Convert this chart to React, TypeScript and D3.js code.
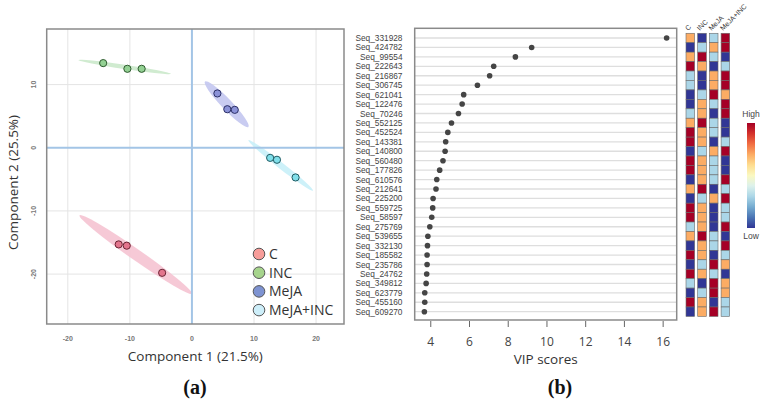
import * as React from 'react';
import * as d3 from 'd3';

// ---- panel (a): PCA scores ----
const groups = ['C', 'INC', 'MeJA', 'MeJA+INC'];
const pcaGroup = [0, 0, 0, 1, 1, 1, 2, 2, 2, 3, 3, 3];
const pcaX = [-11.8, -10.5, -4.8, -14.3, -10.4, -8.1, 4.1, 5.7, 6.9, 12.6, 13.7, 16.7];
const pcaY = [-15.3, -15.5, -19.8, 13.4, 12.5, 12.5, 8.6, 6.1, 6.0, -1.6, -1.9, -4.7];

// confidence ellipses: ends of the long axis + full short-axis width (data units)
const ellX1 = [-18.1, -18.3, 2.1, 9.1];
const ellY1 = [-10.7, 13.9, 10.5, 1.2];
const ellX2 = [0.0, -3.4, 9.1, 19.5];
const ellY2 = [-23.1, 11.7, 3.3, -6.8];
const ellW = [1.8, 0.7, 1.7, 1.0];

const pcaTicks = [-20, -10, 0, 10, 20];

// ---- panel (b): VIP scores ----
const seqNames = [
  'Seq_331928', 'Seq_424782', 'Seq_99554', 'Seq_222643', 'Seq_216867', 'Seq_306745',
  'Seq_621041', 'Seq_122476', 'Seq_70246', 'Seq_552125', 'Seq_452524', 'Seq_143381',
  'Seq_140800', 'Seq_560480', 'Seq_177826', 'Seq_610576', 'Seq_212641', 'Seq_225200',
  'Seq_559725', 'Seq_58597', 'Seq_275769', 'Seq_539655', 'Seq_332130', 'Seq_185582',
  'Seq_235786', 'Seq_24762', 'Seq_349812', 'Seq_623779', 'Seq_455160', 'Seq_609270'
];
const vipScores = [
  16.18, 9.21, 8.37, 7.25, 7.04, 6.41, 5.70, 5.62, 5.43, 5.07, 4.88, 4.77, 4.74, 4.63, 4.46,
  4.31, 4.27, 4.12, 4.10, 4.05, 3.95, 3.85, 3.83, 3.81, 3.81, 3.79, 3.76, 3.69, 3.69, 3.67
];
const vipTicks = [4, 6, 8, 10, 12, 14, 16];

// relative level per group (1 = low ... 4 = high)
const heatC = [3, 1, 3, 4, 2, 2, 1, 1, 2, 3, 4, 4, 1, 4, 4, 1, 3, 1, 4, 4, 2, 3, 1, 4, 1, 4, 2, 1, 4, 1];
const heatINC = [1, 2, 4, 3, 1, 1, 2, 3, 3, 4, 3, 3, 2, 3, 3, 3, 4, 2, 3, 3, 3, 4, 3, 3, 2, 3, 1, 2, 3, 3];
const heatMeJA = [2, 3, 2, 1, 3, 3, 4, 2, 1, 2, 2, 1, 3, 2, 2, 2, 1, 3, 1, 1, 1, 2, 2, 1, 4, 2, 4, 4, 1, 4];
const heatMeJAINC = [4, 4, 1, 2, 4, 4, 3, 4, 4, 1, 1, 2, 4, 1, 1, 4, 2, 4, 2, 2, 4, 1, 4, 2, 3, 1, 3, 3, 2, 2];
const heatCols = [heatC, heatINC, heatMeJA, heatMeJAINC];

const pointFill = ['#e3758d', '#93d193', '#8b92d8', '#80dfea'];
const pointStroke = ['#6b2434', '#2f5a2f', '#2b2f66', '#1f5a62'];
const ellFill = ['#f5c3d2', '#cbe9cb', '#c3c6f0', '#c8f0f8'];
const legendFill = ['#f79d9a', '#a6d48c', '#7e93d1', '#cdeef9'];

const sans = '"Open Sans", "Noto Sans", sans-serif';
const arial = '"Liberation Sans", Arial, sans-serif';

function PcaPanel() {
  const x = d3.scaleLinear().domain([-23.4, 24.5]).range([46.7, 344]);
  const y = d3.scaleLinear().domain([18.8, -27.9]).range([29, 324]);
  const [x0, x1] = x.range();
  const [y0, y1] = y.range();

  const ellipses = ellX1.map((_, i) => {
    const ax = x(ellX1[i]), ay = y(ellY1[i]);
    const bx = x(ellX2[i]), by = y(ellY2[i]);
    const cx = (ax + bx) / 2, cy = (ay + by) / 2;
    const rx = Math.hypot(bx - ax, by - ay) / 2;
    const ry = (x(ellW[i]) - x(0)) / 2;
    const ang = (Math.atan2(by - ay, bx - ax) * 180) / Math.PI;
    return { cx, cy, rx, ry, ang, i };
  });

  return (
    <g>
      <clipPath id="pcaClip">
        <rect x={x0} y={y0} width={x1 - x0} height={y1 - y0} />
      </clipPath>
      {pcaTicks.filter(t => t !== 0).map(t => (
        <line key={'gx' + t} x1={x(t)} x2={x(t)} y1={y0} y2={y1} stroke="#e4e4e4" strokeWidth={1} />
      ))}
      {pcaTicks.filter(t => t !== 0 && y(t) > y0 && y(t) < y1).map(t => (
        <line key={'gy' + t} x1={x0} x2={x1} y1={y(t)} y2={y(t)} stroke="#e4e4e4" strokeWidth={1} />
      ))}
      <g clipPath="url(#pcaClip)">
        {ellipses.map(e => (
          <ellipse key={'e' + e.i} cx={e.cx} cy={e.cy} rx={e.rx} ry={e.ry}
            transform={`rotate(${e.ang} ${e.cx} ${e.cy})`} fill={ellFill[e.i]} opacity={0.9} />
        ))}
      </g>
      <line x1={x(0)} x2={x(0)} y1={y0} y2={y1} stroke="#a3c5e6" strokeWidth={2} />
      <line x1={x0} x2={x1} y1={y(0)} y2={y(0)} stroke="#a3c5e6" strokeWidth={2} />
      {pcaX.map((v, i) => (
        <circle key={'p' + i} cx={x(v)} cy={y(pcaY[i])} r={3.6}
          fill={pointFill[pcaGroup[i]]} stroke={pointStroke[pcaGroup[i]]} strokeWidth={1} />
      ))}
      <rect x={x0} y={y0} width={x1 - x0} height={y1 - y0} fill="none" stroke="#8a8a8a" strokeWidth={1.5} />
      {pcaTicks.map(t => (
        <text key={'tx' + t} x={x(t)} y={341} textAnchor="middle" fontSize={7} fontWeight="bold"
          fill="#777" fontFamily={arial}>{t}</text>
      ))}
      {pcaTicks.filter(t => y(t) > y0 && y(t) < y1).map(t => (
        <text key={'ty' + t} transform={`translate(35.5,${y(t)}) rotate(-90)`} textAnchor="middle"
          fontSize={7} fontWeight="bold" fill="#777" fontFamily={arial}>{t}</text>
      ))}
      <text x={(x0 + x1) / 2} y={361} textAnchor="middle" fontSize={13.5} fill="#333" fontFamily={sans}>
        Component 1 (21.5%)
      </text>
      <text transform={`translate(18,${(y0 + y1) / 2 + 6}) rotate(-90)`} textAnchor="middle" fontSize={13.5}
        fill="#333" fontFamily={sans}>Component 2 (25.5%)</text>
      {groups.map((g, i) => (
        <g key={'lg' + g} transform={`translate(259,${254 + i * 18.7})`}>
          <circle r={5.8} fill={legendFill[i]} stroke="#555" strokeWidth={1} />
          <text x={10} y={5} fontSize={14} fill="#333" fontFamily={sans}>{g}</text>
        </g>
      ))}
    </g>
  );
}

function VipPanel() {
  const x = d3.scaleLinear().domain([3.17, 16.7]).range([414.7, 676.7]);
  const y = d3.scalePoint<string>().domain(seqNames).range([38, 311.7]);
  const [x0, x1] = x.range();
  const y0 = 28.3, y1 = 320;

  const colorT = d3.scaleLinear().domain([1, 2, 3, 4]).range([1, 0.7, 0.3, 0]);
  const heatColor = (v: number) => d3.interpolateRdYlBu(colorT(v));
  const step = y.step();
  const colX = [686, 697.7, 709.4, 721.1];
  const cellW = 8.6;

  const gradStops = d3.range(0, 1.0001, 0.1);

  return (
    <g>
      <defs>
        <linearGradient id="vipGrad" x1="0" y1="0" x2="0" y2="1">
          {gradStops.map(t => (
            <stop key={t} offset={t} stopColor={d3.interpolateRdYlBu(t)} />
          ))}
        </linearGradient>
      </defs>
      {seqNames.map(s => (
        <line key={'g' + s} x1={x0} x2={x1} y1={y(s)} y2={y(s)} stroke="#dedede" strokeWidth={1.3} />
      ))}
      {seqNames.map((s, i) => (
        <circle key={'d' + s} cx={x(vipScores[i])} cy={y(s)} r={2.8} fill="#454545" />
      ))}
      <rect x={x0} y={y0} width={x1 - x0} height={y1 - y0} fill="none" stroke="#8a8a8a" strokeWidth={1.5} />
      {seqNames.map(s => (
        <text key={'l' + s} x={402.5} y={(y(s) as number) + 3} textAnchor="end" fontSize={8.3}
          fill="#444" fontFamily={arial}>{s}</text>
      ))}
      {vipTicks.map(t => (
        <g key={'t' + t}>
          <line x1={x(t)} x2={x(t)} y1={y1 + 1} y2={y1 + 7} stroke="#666" strokeWidth={1} />
          <text x={x(t)} y={346} textAnchor="middle" fontSize={12} fill="#444" fontFamily={sans}>{t}</text>
        </g>
      ))}
      <text x={(x0 + x1) / 2} y={364} textAnchor="middle" fontSize={13.5} fill="#333" fontFamily={sans}>
        VIP scores
      </text>
      {heatCols.map((col, c) => (
        <g key={'hc' + c}>
          {col.map((v, r) => (
            <rect key={r} x={colX[c]} y={(y(seqNames[r]) as number) - step / 2} width={cellW} height={step}
              fill={heatColor(v)} stroke="#6a6a6a" strokeWidth={0.6} />
          ))}
          <text transform={`translate(${colX[c] + 2},${31}) rotate(-45)`} fontSize={7} fill="#333"
            fontFamily={arial}>{groups[c]}</text>
        </g>
      ))}
      <text x={751} y={117} textAnchor="middle" fontSize={8.5} fill="#444" fontFamily={arial}>High</text>
      <rect x={747} y={123} width={8} height={105} fill="url(#vipGrad)" />
      <text x={751} y={239} textAnchor="middle" fontSize={8.5} fill="#444" fontFamily={arial}>Low</text>
    </g>
  );
}

export default function App() {
  return (
    <svg width={764} height={402} style={{ position: 'absolute', left: 0, top: 0, background: '#fff' }}>
      <rect width={764} height={402} fill="#fff" />
      <PcaPanel />
      <VipPanel />
      <text x={195} y={394} textAnchor="middle" fontSize={20} fontWeight="bold" fill="#111"
        fontFamily='"Liberation Serif", "Times New Roman", serif'>
        (<tspan fontWeight="bold">a</tspan>)
      </text>
      <text x={560} y={394} textAnchor="middle" fontSize={20} fontWeight="bold" fill="#111"
        fontFamily='"Liberation Serif", "Times New Roman", serif'>
        (<tspan fontWeight="bold">b</tspan>)
      </text>
    </svg>
  );
}
